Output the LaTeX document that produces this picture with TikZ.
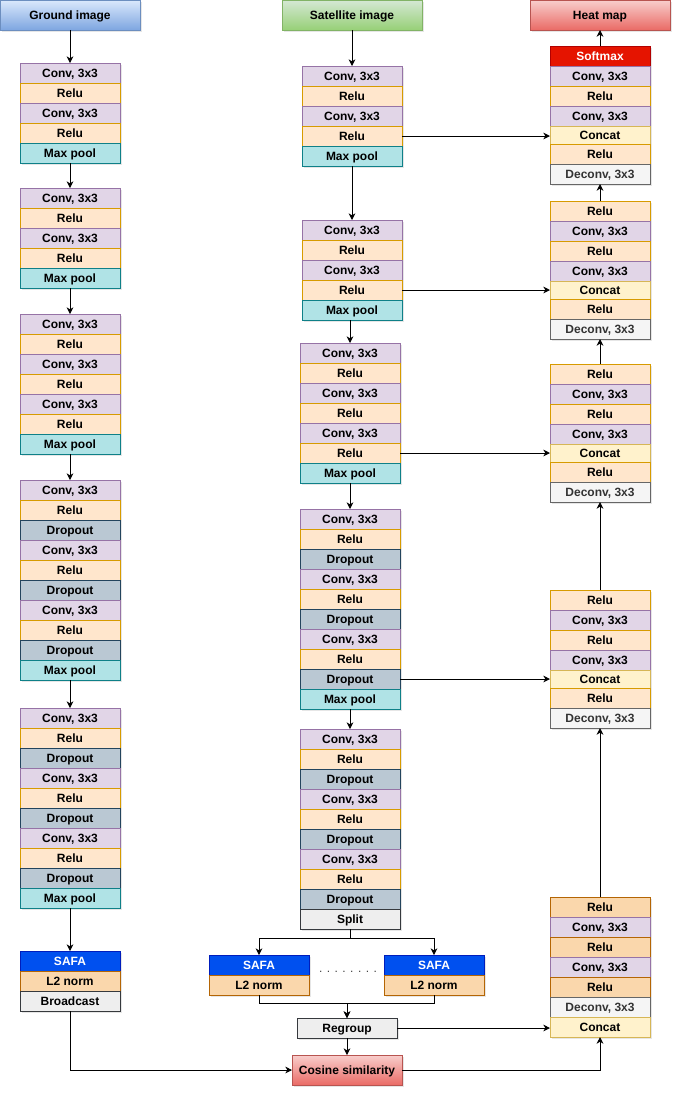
\documentclass[tikz,border=0pt]{standalone}
\usepackage{fontspec}
\setmainfont{Liberation Sans}
\usepackage{xcolor}
\usetikzlibrary{arrows.meta, positioning, shadows}

\definecolor{convfill}{HTML}{E1D5E7}
\definecolor{convline}{HTML}{9673A6}
\definecolor{relufill}{HTML}{FFE6CC}
\definecolor{reluline}{HTML}{D79B00}
\definecolor{poolfill}{HTML}{B0E3E6}
\definecolor{poolline}{HTML}{0E8088}
\definecolor{dropfill}{HTML}{BAC8D3}
\definecolor{dropline}{HTML}{23445D}
\definecolor{catfill}{HTML}{FFF2CC}
\definecolor{catline}{HTML}{D6B656}
\definecolor{deconvfill}{HTML}{F5F5F5}
\definecolor{deconvline}{HTML}{666666}
\definecolor{deconvtext}{HTML}{333333}
\definecolor{greyfill}{HTML}{EEEEEE}
\definecolor{greyline}{HTML}{36393D}
\definecolor{normfill}{HTML}{FAD7AC}
\definecolor{normline}{HTML}{B46504}
\definecolor{safafill}{HTML}{0050EF}
\definecolor{safaline}{HTML}{001DBC}
\definecolor{softfill}{HTML}{E51400}
\definecolor{softline}{HTML}{B20000}
\definecolor{bluetop}{HTML}{DAE8FC}
\definecolor{bluebot}{HTML}{7EA6E0}
\definecolor{blueline}{HTML}{6C8EBF}
\definecolor{greentop}{HTML}{D5E8D4}
\definecolor{greenbot}{HTML}{97D077}
\definecolor{greenline}{HTML}{82B366}
\definecolor{redtop}{HTML}{F8CECC}
\definecolor{redbot}{HTML}{EA6B66}
\definecolor{redline}{HTML}{B85450}

\begin{document}
\begin{tikzpicture}[
    x=0.75pt, y=-0.75pt,
    cell/.style={rectangle, draw, line width=0.75pt, minimum width=75pt, minimum height=15pt,
        inner sep=0pt, outer sep=0pt, text height=7pt, text depth=0.6pt,
        font=\bfseries\fontsize{9}{11}\selectfont,
        drop shadow={opacity=0.2, shadow xshift=1.5pt, shadow yshift=-1.5pt}},
    conv/.style={cell, fill=convfill, draw=convline},
    relu/.style={cell, fill=relufill, draw=reluline},
    pool/.style={cell, fill=poolfill, draw=poolline},
    drop/.style={cell, fill=dropfill, draw=dropline},
    concat/.style={cell, fill=catfill, draw=catline, minimum height=13.5pt},
    deconv/.style={cell, fill=deconvfill, draw=deconvline, text=deconvtext},
    greybox/.style={cell, fill=greyfill, draw=greyline},
    norm/.style={cell, fill=normfill, draw=normline},
    safa/.style={cell, fill=safafill, draw=safaline, text=white},
    softmax/.style={cell, fill=softfill, draw=softline, text=white},
    title/.style={cell, minimum width=105pt, minimum height=22.5pt},
    arrow/.style={-{Stealth[length=5pt, width=5pt, inset=1.5pt]}, line width=0.75pt}
]
\useasboundingbox (0,0) rectangle (681,1097);

% inputs and output
\node[title, top color=bluetop, bottom color=bluebot, draw=blueline] (ground) at (70,15) {Ground image};
\node[title, top color=greentop, bottom color=greenbot, draw=greenline] (satellite) at (352,15) {Satellite image};
\node[title, top color=redtop, bottom color=redbot, draw=redline] (heatmap) at (600,15) {Heat map};

% ground branch
\node[conv] (g1_1) at (70,73) {Conv, 3x3};
\node[relu, below=0pt of g1_1] (g1_2) {Relu};
\node[conv, below=0pt of g1_2] (g1_3) {Conv, 3x3};
\node[relu, below=0pt of g1_3] (g1_4) {Relu};
\node[pool, below=0pt of g1_4] (g1_5) {Max pool};

\node[conv] (g2_1) at (70,198) {Conv, 3x3};
\node[relu, below=0pt of g2_1] (g2_2) {Relu};
\node[conv, below=0pt of g2_2] (g2_3) {Conv, 3x3};
\node[relu, below=0pt of g2_3] (g2_4) {Relu};
\node[pool, below=0pt of g2_4] (g2_5) {Max pool};

\node[conv] (g3_1) at (70,324) {Conv, 3x3};
\node[relu, below=0pt of g3_1] (g3_2) {Relu};
\node[conv, below=0pt of g3_2] (g3_3) {Conv, 3x3};
\node[relu, below=0pt of g3_3] (g3_4) {Relu};
\node[conv, below=0pt of g3_4] (g3_5) {Conv, 3x3};
\node[relu, below=0pt of g3_5] (g3_6) {Relu};
\node[pool, below=0pt of g3_6] (g3_7) {Max pool};

\node[conv] (g4_1) at (70,490) {Conv, 3x3};
\node[relu, below=0pt of g4_1] (g4_2) {Relu};
\node[drop, below=0pt of g4_2] (g4_3) {Dropout};
\node[conv, below=0pt of g4_3] (g4_4) {Conv, 3x3};
\node[relu, below=0pt of g4_4] (g4_5) {Relu};
\node[drop, below=0pt of g4_5] (g4_6) {Dropout};
\node[conv, below=0pt of g4_6] (g4_7) {Conv, 3x3};
\node[relu, below=0pt of g4_7] (g4_8) {Relu};
\node[drop, below=0pt of g4_8] (g4_9) {Dropout};
\node[pool, below=0pt of g4_9] (g4_10) {Max pool};

\node[conv] (g5_1) at (70,718) {Conv, 3x3};
\node[relu, below=0pt of g5_1] (g5_2) {Relu};
\node[drop, below=0pt of g5_2] (g5_3) {Dropout};
\node[conv, below=0pt of g5_3] (g5_4) {Conv, 3x3};
\node[relu, below=0pt of g5_4] (g5_5) {Relu};
\node[drop, below=0pt of g5_5] (g5_6) {Dropout};
\node[conv, below=0pt of g5_6] (g5_7) {Conv, 3x3};
\node[relu, below=0pt of g5_7] (g5_8) {Relu};
\node[drop, below=0pt of g5_8] (g5_9) {Dropout};
\node[pool, below=0pt of g5_9] (g5_10) {Max pool};

\node[safa] (g6_1) at (70,961) {SAFA};
\node[norm, below=0pt of g6_1] (g6_2) {L2 norm};
\node[greybox, below=0pt of g6_2] (g6_3) {Broadcast};

% satellite branch
\node[conv] (m1_1) at (352,76) {Conv, 3x3};
\node[relu, below=0pt of m1_1] (m1_2) {Relu};
\node[conv, below=0pt of m1_2] (m1_3) {Conv, 3x3};
\node[relu, below=0pt of m1_3] (m1_4) {Relu};
\node[pool, below=0pt of m1_4] (m1_5) {Max pool};

\node[conv] (m2_1) at (352,230) {Conv, 3x3};
\node[relu, below=0pt of m2_1] (m2_2) {Relu};
\node[conv, below=0pt of m2_2] (m2_3) {Conv, 3x3};
\node[relu, below=0pt of m2_3] (m2_4) {Relu};
\node[pool, below=0pt of m2_4] (m2_5) {Max pool};

\node[conv] (m3_1) at (350,353) {Conv, 3x3};
\node[relu, below=0pt of m3_1] (m3_2) {Relu};
\node[conv, below=0pt of m3_2] (m3_3) {Conv, 3x3};
\node[relu, below=0pt of m3_3] (m3_4) {Relu};
\node[conv, below=0pt of m3_4] (m3_5) {Conv, 3x3};
\node[relu, below=0pt of m3_5] (m3_6) {Relu};
\node[pool, below=0pt of m3_6] (m3_7) {Max pool};

\node[conv] (m4_1) at (350,519) {Conv, 3x3};
\node[relu, below=0pt of m4_1] (m4_2) {Relu};
\node[drop, below=0pt of m4_2] (m4_3) {Dropout};
\node[conv, below=0pt of m4_3] (m4_4) {Conv, 3x3};
\node[relu, below=0pt of m4_4] (m4_5) {Relu};
\node[drop, below=0pt of m4_5] (m4_6) {Dropout};
\node[conv, below=0pt of m4_6] (m4_7) {Conv, 3x3};
\node[relu, below=0pt of m4_7] (m4_8) {Relu};
\node[drop, below=0pt of m4_8] (m4_9) {Dropout};
\node[pool, below=0pt of m4_9] (m4_10) {Max pool};

\node[conv] (m5_1) at (350,739) {Conv, 3x3};
\node[relu, below=0pt of m5_1] (m5_2) {Relu};
\node[drop, below=0pt of m5_2] (m5_3) {Dropout};
\node[conv, below=0pt of m5_3] (m5_4) {Conv, 3x3};
\node[relu, below=0pt of m5_4] (m5_5) {Relu};
\node[drop, below=0pt of m5_5] (m5_6) {Dropout};
\node[conv, below=0pt of m5_6] (m5_7) {Conv, 3x3};
\node[relu, below=0pt of m5_7] (m5_8) {Relu};
\node[drop, below=0pt of m5_8] (m5_9) {Dropout};
\node[greybox, below=0pt of m5_9] (m5_10) {Split};

\node[safa] (sL_1) at (259,965) {SAFA};
\node[norm, below=0pt of sL_1] (sL_2) {L2 norm};
\node[safa] (sR_1) at (434,965) {SAFA};
\node[norm, below=0pt of sR_1] (sR_2) {L2 norm};
\node[font=\fontsize{9}{11}\selectfont, text=black!75, inner sep=0pt] (dots) at (348,972) {. . . . . . . .};

\node[greybox] (regroup) at (347,1028) {Regroup};
\node[title, minimum width=82.5pt, top color=redtop, bottom color=redbot, draw=redline] (cosine) at (347,1070) {Cosine similarity};

% decoder
\node[softmax] (hA_1) at (600,56) {Softmax};
\node[conv, below=0pt of hA_1] (hA_2) {Conv, 3x3};
\node[relu, below=0pt of hA_2] (hA_3) {Relu};
\node[conv, below=0pt of hA_3] (hA_4) {Conv, 3x3};
\node[concat, below=0pt of hA_4] (hA_5) {Concat};
\node[relu, below=0pt of hA_5] (hA_6) {Relu};
\node[deconv, below=0pt of hA_6] (hA_7) {Deconv, 3x3};

\node[relu] (hB_1) at (600,211) {Relu};
\node[conv, below=0pt of hB_1] (hB_2) {Conv, 3x3};
\node[relu, below=0pt of hB_2] (hB_3) {Relu};
\node[conv, below=0pt of hB_3] (hB_4) {Conv, 3x3};
\node[concat, below=0pt of hB_4] (hB_5) {Concat};
\node[relu, below=0pt of hB_5] (hB_6) {Relu};
\node[deconv, below=0pt of hB_6] (hB_7) {Deconv, 3x3};

\node[relu] (hC_1) at (600,374) {Relu};
\node[conv, below=0pt of hC_1] (hC_2) {Conv, 3x3};
\node[relu, below=0pt of hC_2] (hC_3) {Relu};
\node[conv, below=0pt of hC_3] (hC_4) {Conv, 3x3};
\node[concat, below=0pt of hC_4] (hC_5) {Concat};
\node[relu, below=0pt of hC_5] (hC_6) {Relu};
\node[deconv, below=0pt of hC_6] (hC_7) {Deconv, 3x3};

\node[relu] (hD_1) at (600,600) {Relu};
\node[conv, below=0pt of hD_1] (hD_2) {Conv, 3x3};
\node[relu, below=0pt of hD_2] (hD_3) {Relu};
\node[conv, below=0pt of hD_3] (hD_4) {Conv, 3x3};
\node[concat, below=0pt of hD_4] (hD_5) {Concat};
\node[relu, below=0pt of hD_5] (hD_6) {Relu};
\node[deconv, below=0pt of hD_6] (hD_7) {Deconv, 3x3};

\node[norm] (hE_1) at (600,907) {Relu};
\node[conv, below=0pt of hE_1] (hE_2) {Conv, 3x3};
\node[norm, below=0pt of hE_2] (hE_3) {Relu};
\node[conv, below=0pt of hE_3] (hE_4) {Conv, 3x3};
\node[norm, below=0pt of hE_4] (hE_5) {Relu};
\node[deconv, below=0pt of hE_5] (hE_6) {Deconv, 3x3};
\node[concat, minimum height=15pt, below=0pt of hE_6] (hE_7) {Concat};

% ground connections
\draw[arrow] (ground) -- (g1_1);
\draw[arrow] (g1_5) -- (g2_1);
\draw[arrow] (g2_5) -- (g3_1);
\draw[arrow] (g3_7) -- (g4_1);
\draw[arrow] (g4_10) -- (g5_1);
\draw[arrow] (g5_10) -- (g6_1);
\draw[arrow] (g6_3.south) |- (cosine.west);

% satellite connections
\draw[arrow] (satellite) -- (m1_1);
\draw[arrow] (m1_5) -- (m2_1);
\draw[arrow] (m2_5.south -| m3_1.north) -- (m3_1.north);
\draw[arrow] (m3_7) -- (m4_1);
\draw[arrow] (m4_10) -- (m5_1);
\draw[arrow] (m5_10.south) -- ++(0,9) -| (sL_1.north);
\draw[arrow] (m5_10.south) -- ++(0,9) -| (sR_1.north);
\draw[arrow] (sL_2.south) -- ++(0,8) -| (regroup.north);
\draw[arrow] (sR_2.south) -- ++(0,8) -| (regroup.north);
\draw[arrow] (regroup) -- (cosine);

% skip connections
\draw[arrow] (m1_4.east) -- (m1_4.east -| hA_5.west);
\draw[arrow] (m2_4.east) -- (m2_4.east -| hB_5.west);
\draw[arrow] (m3_6.east) -- (m3_6.east -| hC_5.west);
\draw[arrow] (m4_9.east) -- (m4_9.east -| hD_5.west);
\draw[arrow] (regroup.east) -- (regroup.east -| hE_7.west);
\draw[arrow] (cosine.east) -| (hE_7.south);

% decoder connections
\draw[arrow] (hE_1) -- (hD_7);
\draw[arrow] (hD_1) -- (hC_7);
\draw[arrow] (hC_1) -- (hB_7);
\draw[arrow] (hB_1) -- (hA_7);
\draw[arrow] (hA_1) -- (heatmap);

\end{tikzpicture}
\end{document}
